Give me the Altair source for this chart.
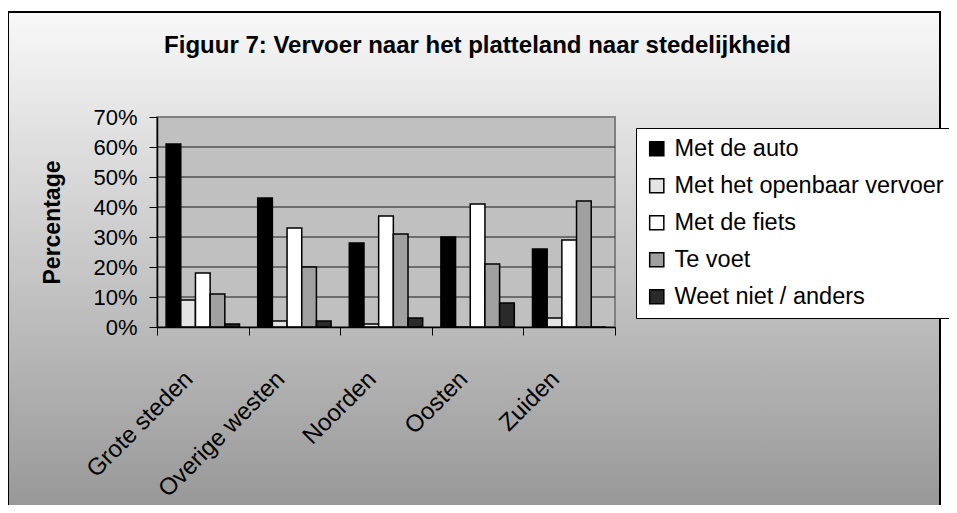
import altair as alt
import pandas as pd

regions = ["Grote steden", "Overige westen", "Noorden", "Oosten", "Zuiden"]
modes = ["Met de auto", "Met het openbaar vervoer", "Met de fiets", "Te voet", "Weet niet / anders"]
auto = [61, 43, 28, 30, 26]
ov = [9, 2, 1, 0, 3]
fiets = [18, 33, 37, 41, 29]
voet = [11, 20, 31, 21, 42]
weet = [1, 2, 3, 8, 0]
y_ticks = [0, 10, 20, 30, 40, 50, 60, 70]
grid_vals = [10, 20, 30, 40, 50, 60]
title_text = "Figuur 7: Vervoer naar het platteland naar stedelijkheid"
colors = ["#000000", "#e4e4e4", "#ffffff", "#a0a0a0", "#2a2a2a"]

series = [auto, ov, fiets, voet, weet]
rows = []
for m, vals in zip(modes, series):
    for r, v in zip(regions, vals):
        rows.append({"region": r, "mode": m, "value": v})
df = pd.DataFrame(rows)

FONT = "Liberation Sans"
W, H = 458, 210
one = pd.DataFrame({"a": [0]})

y_scale = alt.Scale(domain=[0, 70])
y_axis = alt.Axis(values=y_ticks, labelExpr="datum.value + '%'", title="Percentage",
                  titleFontSize=23, titleFont=FONT, titleFontWeight="bold", titleColor="black",
                  titlePadding=28, labelFontSize=22, labelFont=FONT, labelColor="black",
                  labelPadding=12, labelOverlap=False, tickSize=8, tickColor="black",
                  domainColor="black", domainWidth=1.5, grid=False, zindex=1)

bg = alt.Chart(one).mark_rect(
    fill=alt.LinearGradient(
        gradient="linear",
        stops=[alt.GradientStop(color="#f8f8f8", offset=0),
               alt.GradientStop(color="#969696", offset=1)],
        x1=0, x2=0, y1=0, y2=1),
    stroke="black", strokeWidth=2,
).encode(x=alt.value(-149), x2=alt.value(783), y=alt.value(-105), y2=alt.value(400))

plotbg = alt.Chart(one).mark_rect(fill="#c0c0c0", stroke="#808080", strokeWidth=2).encode(
    x=alt.value(0), x2=alt.value(W), y=alt.value(0), y2=alt.value(H))

grid = alt.Chart(pd.DataFrame({"value": grid_vals})).mark_rule(color="#1a1a1a", strokeWidth=1).encode(
    y=alt.Y("value:Q", scale=y_scale, axis=y_axis))

bars = alt.Chart(df).mark_bar(stroke="black", strokeWidth=1.5).encode(
    x=alt.X("region:N", sort=regions, scale=alt.Scale(paddingInner=0, paddingOuter=0),
            axis=alt.Axis(title=None, labelAngle=315, labelAlign="right", labelBaseline="middle",
                          labelPadding=40, labelOffset=-14, labelFontSize=24, labelFont=FONT,
                          labelColor="black", labelOverlap=False, labelLimit=400,
                          tickBand="extent", tickSize=8, tickColor="black", domainColor="black",
                          domainWidth=1.5, zindex=1)),
    xOffset=alt.XOffset("mode:N", sort=modes, scale=alt.Scale(paddingOuter=0.62, paddingInner=0)),
    y=alt.Y("value:Q", scale=y_scale, axis=y_axis),
    color=alt.Color("mode:N", sort=modes, scale=alt.Scale(domain=modes, range=colors),
                    legend=alt.Legend(title=None, orient="none", legendX=479, legendY=11,
                                      fillColor="white", strokeColor="black", padding=9,
                                      symbolType="square", symbolSize=200, symbolStrokeColor="black",
                                      symbolStrokeWidth=1.5, symbolOpacity=1,
                                      labelFontSize=23.5, labelFont=FONT, labelColor="black",
                                      labelLimit=400, labelOffset=6, rowPadding=12, zindex=1)),
)

title = alt.Chart(one).mark_text(fontSize=24, font=FONT, fontWeight="bold", color="black",
                                 align="center", baseline="alphabetic").encode(
    x=alt.value(320.5), y=alt.value(-64), text=alt.value(title_text))

chart = alt.layer(bg, plotbg, grid, bars, title).properties(
    width=W, height=H,
    autosize=alt.AutoSizeParams(type="none"),
    padding={"left": 149, "top": 109, "right": 334, "bottom": 178},
).configure_view(stroke=None)

chart.save("out.html", embed_options={"renderer": "svg", "actions": False})
